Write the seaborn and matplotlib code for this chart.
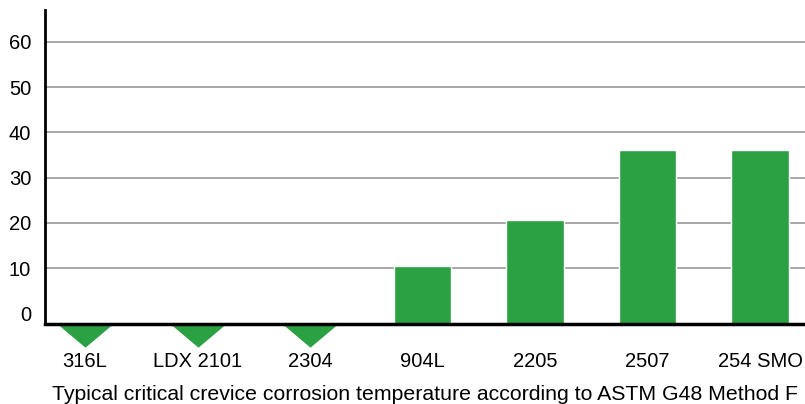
import numpy as np
import pandas as pd
import matplotlib
matplotlib.use("Agg")
import matplotlib.pyplot as plt
import seaborn as sns

# grades and critical crevice temperature (deg C), None = below 0
grades = ['316L', 'LDX 2101', '2304', '904L', '2205', '2507', '254 SMO']
cct = [None, None, None, 10.5, 20.7, 36, 36]
y_ticks = [0, 10, 20, 30, 40, 50, 60]
xlabel = 'Typical critical crevice corrosion temperature according to ASTM G48 Method F'

green = '#2ca144'
ymin, ymax = -2.3, 67

sns.set_style('white')
plt.rcParams['font.family'] = ['Liberation Sans', 'DejaVu Sans']
plt.rcParams['font.size'] = 14
plt.rcParams['text.color'] = 'black'
plt.rcParams['xtick.color'] = 'black'
plt.rcParams['ytick.color'] = 'black'
plt.rcParams['axes.labelcolor'] = 'black'

df = pd.DataFrame({'Grade': grades, 'CCT': [np.nan if v is None else v for v in cct]})

fig = plt.figure(figsize=(8.05, 4.04), dpi=100)
ax = fig.add_axes([45/805, 1-324/404, 1-45/805, (324-10)/404])

sns.barplot(data=df, x='Grade', y='CCT', color=green, saturation=1, width=0.515, ax=ax, zorder=3)

#bars start at the axis line, which sits a little below 0
for p in ax.patches:
    h = p.get_height()
    if np.isfinite(h):
        p.set_y(ymin)
        p.set_height(h - ymin)

#grades below 0 get a down arrow under the axis
below = df[df['CCT'].isna()]
tri = [(-1, 0), (1, 0), (0, -0.84), (-1, 0)]
ax.scatter(below.index, [ymin]*len(below), marker=tri, s=1580, color=green,
           linewidths=0, clip_on=False, zorder=4)

ax.set_xlim(-0.356, 6.4)
ax.set_ylim(ymin, ymax)
ax.set_yticks(y_ticks)
ax.set_xlabel(xlabel, fontsize=15.3, labelpad=10)
ax.set_ylabel('')

ax.yaxis.grid(True, color='#a0a0a0', linewidth=1.3, zorder=0)
ax.set_axisbelow(True)
for line, t in zip(ax.yaxis.get_gridlines(), y_ticks):
    if t == 0:
        line.set_visible(False)

ax.tick_params(axis='y', length=0, pad=10, labelsize=14.5)
ax.tick_params(axis='x', length=0, pad=20, labelsize=14.5)

for s in ['top', 'right']:
    ax.spines[s].set_visible(False)
ax.spines['left'].set_linewidth(2)
ax.spines['left'].set_color('black')
ax.spines['bottom'].set_linewidth(2.5)
ax.spines['bottom'].set_color('black')
ax.spines['bottom'].set_zorder(5)

plt.savefig('out.png', dpi=100)
